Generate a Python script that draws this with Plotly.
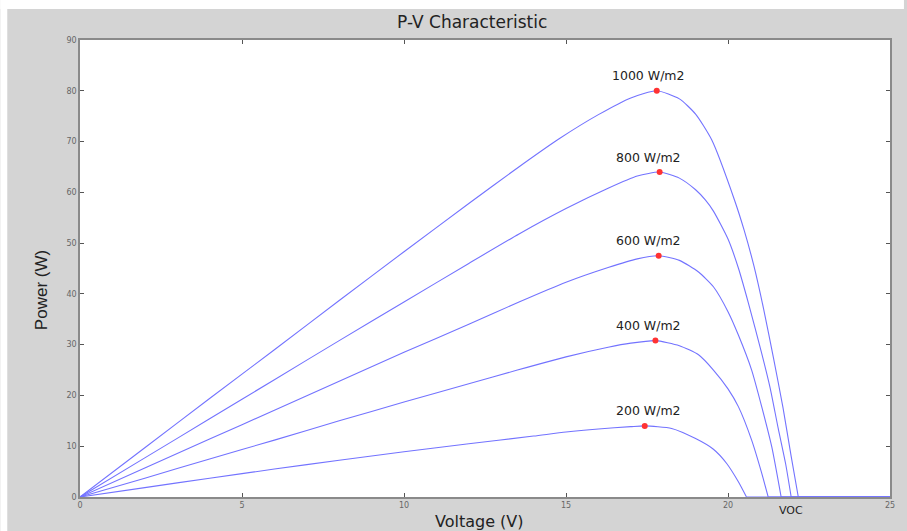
import plotly.graph_objects as go

# ---- data ----
v_1000 = [0, 2, 4, 6, 8, 10, 12, 13.5, 14.8, 16.0, 17.0, 17.8, 18.5, 19.0, 19.5, 20.2, 20.5, 20.8, 21.1, 21.4, 21.7, 21.95, 22.17, 25]
p_1000 = [0, 9.7, 19.4, 29.0, 38.7, 48.3, 57.8, 64.8, 70.6, 75.3, 78.6, 80.0, 78.4, 75.4, 70.3, 58.5, 52.5, 45.5, 37.0, 27.5, 17.5, 8.0, 0, 0]

v_800 = [0, 2, 4, 6, 8, 10, 12, 13.55, 15, 16.3, 17.2, 17.89, 18.5, 19.0, 19.3, 19.55, 20.0, 20.32, 20.63, 21.04, 21.3, 21.55, 21.78, 21.95, 25]
p_800 = [0, 7.7, 15.4, 23.1, 30.8, 38.4, 46.0, 51.8, 56.8, 60.8, 63.2, 64.0, 62.8, 60.5, 58.5, 56.3, 50.8, 45.1, 38.2, 28.3, 21.5, 13.5, 6.5, 0, 0]

v_600 = [0, 2, 4, 6, 8, 10, 12, 13.55, 15, 16.3, 17.2, 17.86, 18.5, 19.09, 19.55, 20.0, 20.32, 20.73, 21.04, 21.35, 21.64, 25]
p_600 = [0, 5.7, 11.4, 17.1, 22.8, 28.5, 34.0, 38.4, 42.3, 45.2, 46.9, 47.5, 46.6, 44.3, 41.4, 36.5, 31.9, 25.0, 17.8, 9.9, 0, 0]

v_400 = [0, 2, 4, 6, 8, 10, 12, 13.5, 15, 16.3, 17.0, 17.76, 18.5, 19.09, 19.55, 20.0, 20.32, 20.73, 21.04, 21.24, 25]
p_400 = [0, 3.7, 7.5, 11.2, 15.0, 18.7, 22.3, 25.0, 27.6, 29.5, 30.3, 30.8, 29.8, 28.0, 25.0, 21.3, 17.8, 11.2, 4.7, 0, 0]

v_200 = [0, 2, 4, 6, 8, 10, 12, 14, 15, 16, 17, 17.43, 18.26, 19.0, 19.55, 19.96, 20.32, 20.57, 25]
p_200 = [0, 1.85, 3.7, 5.5, 7.25, 8.9, 10.5, 12.0, 12.8, 13.4, 13.85, 14.0, 13.5, 11.5, 9.4, 6.6, 3.0, 0, 0]

series_v = [v_1000, v_800, v_600, v_400, v_200]
series_p = [p_1000, p_800, p_600, p_400, p_200]
labels = ["1000 W/m2", "800 W/m2", "600 W/m2", "400 W/m2", "200 W/m2"]

mpp_v = [17.8, 17.89, 17.86, 17.76, 17.43]
mpp_p = [80.0, 64.0, 47.5, 30.8, 14.0]

x_ticks = [0, 5, 10, 15, 20, 25]
y_ticks = [0, 10, 20, 30, 40, 50, 60, 70, 80, 90]

# ---- figure ----
W, H = 907, 531
L, R, T, B = 80, 14, 40, 34
pw, ph = W - L - R, H - T - B

def px(xp):
    return (xp - L) / pw

def py(yp):
    return (H - B - yp) / ph

LINE = "rgb(115,115,255)"
GRAY_BG = "#d4d4d4"
AX = "#8a8a8a"

fig = go.Figure()
for v, p in zip(series_v, series_p):
    # index where the curve reaches zero power (open-circuit voltage)
    k = next(i for i in range(1, len(p)) if p[i] == 0)
    fig.add_trace(go.Scatter(x=v[:k + 1], y=p[:k + 1], mode="lines",
                             line=dict(color=LINE, width=1.1, shape="spline", smoothing=0.6),
                             showlegend=False, hoverinfo="skip"))
    fig.add_trace(go.Scatter(x=v[k:], y=p[k:], mode="lines",
                             line=dict(color=LINE, width=1.1),
                             showlegend=False, hoverinfo="skip"))

fig.add_trace(go.Scatter(x=mpp_v, y=mpp_p, mode="markers",
                         marker=dict(color="rgb(255,50,50)", size=6, line=dict(width=0)),
                         showlegend=False, hoverinfo="skip"))

annotations = []
for xv, yv, t in zip(mpp_v, mpp_p, labels):
    annotations.append(dict(x=17.55, y=yv, xref="x", yref="y", text=t, showarrow=False,
                            yshift=15, font=dict(family="DejaVu Sans", size=12.5, color="#222")))

annotations += [
    dict(x=px(473), y=py(22), xref="paper", yref="paper", text="P-V Characteristic",
         showarrow=False, xanchor="center", yanchor="middle",
         font=dict(family="DejaVu Sans", size=17, color="#222")),
    dict(x=px(481), y=py(521), xref="paper", yref="paper", text="Voltage (V)",
         showarrow=False, xanchor="center", yanchor="middle",
         font=dict(family="DejaVu Sans", size=16, color="#222")),
    dict(x=px(41), y=py(290), xref="paper", yref="paper", text="Power (W)",
         showarrow=False, xanchor="center", yanchor="middle", textangle=-90,
         font=dict(family="Liberation Sans Narrow, Arial Narrow, sans-serif", size=17, color="#222")),
    dict(x=px(794), y=py(510), xref="paper", yref="paper", text="VOC",
         showarrow=False, xanchor="center", yanchor="middle",
         font=dict(family="DejaVu Sans", size=11, color="#222")),
]

shapes = [
    dict(type="rect", xref="paper", yref="paper", x0=px(0), x1=px(W), y0=py(0), y1=py(9),
         fillcolor="white", line=dict(width=0), layer="below"),
    dict(type="rect", xref="paper", yref="paper", x0=px(0), x1=px(7), y0=py(0), y1=py(H),
         fillcolor="white", line=dict(width=0), layer="below"),
]

axis_common = dict(showgrid=False, zeroline=False, showline=True, linecolor=AX, linewidth=1.5,
                   mirror="ticks", ticks="inside", ticklen=4, tickcolor="#555",
                   tickfont=dict(family="DejaVu Sans", size=8, color="#666"))

fig.update_layout(
    width=W, height=H,
    margin=dict(l=L, r=R, t=T, b=B, pad=0),
    paper_bgcolor=GRAY_BG, plot_bgcolor="white",
    xaxis=dict(range=[0, 25], tickvals=x_ticks, ticktext=[str(t) for t in x_ticks], **axis_common),
    yaxis=dict(range=[0, 90], tickvals=y_ticks, ticktext=[str(t) for t in y_ticks], **axis_common),
    annotations=annotations, shapes=shapes, showlegend=False,
)

fig.write_html(
    "out.html",
    config={"displayModeBar": False},
    post_script="document.body.style.margin='0';document.body.style.padding='0';"
                "document.body.style.overflow='hidden';"
                "document.documentElement.style.overflow='hidden';",
)
